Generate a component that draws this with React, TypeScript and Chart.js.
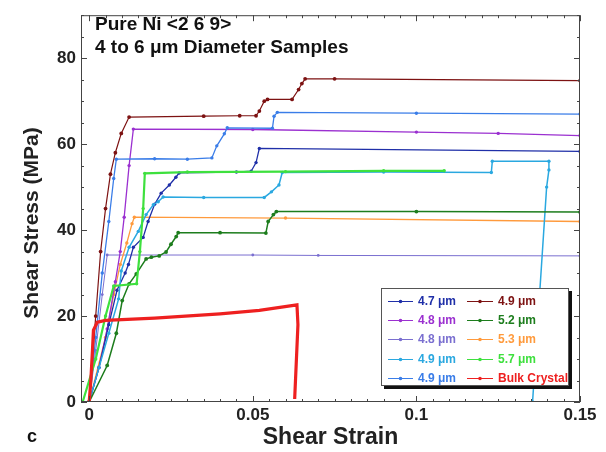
import React, { useEffect, useRef } from 'react';
import { Chart, registerables } from 'chart.js';
Chart.register(...registerables);

// ---------- data (shear strain / shear stress in MPa) ----------
const xTickValues = [0, 0.05, 0.1, 0.15];
const xTickLabels = ['0', '0.05', '0.1', '0.15'];
const yTickValues = [0, 20, 40, 60, 80];
const yTickLabels = ['0', '20', '40', '60', '80'];

const s47Strain = [0, 0.003, 0.006, 0.0085, 0.011, 0.012, 0.0135, 0.0165, 0.018, 0.02, 0.022, 0.0245, 0.0265, 0.0275, 0.045, 0.0495, 0.051, 0.052, 0.15];
const s47Stress = [0, 8, 18, 26, 30, 32, 36, 38.3, 42, 46, 48.6, 50.5, 52.3, 53.3, 53.5, 53.7, 55.7, 59, 58.3];

const s48aStrain = [0, 0.003, 0.0055, 0.008, 0.0095, 0.0107, 0.0122, 0.0135, 0.05, 0.1, 0.125, 0.15];
const s48aStress = [0, 8, 17, 28, 35, 43, 55, 63.5, 63.4, 62.8, 62.5, 62];

const s48bStrain = [0, 0.002, 0.004, 0.0055, 0.05, 0.07, 0.15];
const s48bStress = [0, 12, 25, 34.2, 34.2, 34.1, 34];

const s49aStrain = [0, 0.003, 0.006, 0.009, 0.0098, 0.0122, 0.015, 0.0174, 0.0196, 0.0211, 0.0226, 0.035, 0.0535, 0.0557, 0.058, 0.059, 0.09, 0.1229, 0.1232, 0.1405, 0.1405, 0.1398, 0.1355];
const s49aStress = [0, 8, 16, 24, 30.5, 36, 39.7, 43.6, 45.9, 46.6, 47.7, 47.6, 47.6, 48.9, 50.5, 53.4, 53.5, 53.4, 56, 56, 54, 50, 0];

const s49bStrain = [0, 0.002, 0.004, 0.006, 0.0075, 0.0083, 0.02, 0.03, 0.0375, 0.039, 0.0413, 0.0422, 0.056, 0.0565, 0.0575, 0.1, 0.15];
const s49bStress = [0, 15, 30, 42, 52, 56.5, 56.6, 56.5, 56.8, 59.6, 62.4, 63.8, 63.7, 66.5, 67.4, 67.2, 67];

const s49cStrain = [0, 0.002, 0.0035, 0.005, 0.0065, 0.008, 0.0098, 0.0122, 0.035, 0.046, 0.051, 0.052, 0.0535, 0.0545, 0.062, 0.064, 0.065, 0.066, 0.075, 0.15];
const s49cStress = [0, 20, 35, 45, 53, 58, 62.5, 66.3, 66.5, 66.6, 66.6, 67.7, 70, 70.4, 70.4, 72.7, 74.1, 75.2, 75.2, 74.8];

const s52Strain = [0, 0.0055, 0.0083, 0.0101, 0.0122, 0.0144, 0.0174, 0.019, 0.0214, 0.0235, 0.025, 0.0266, 0.0272, 0.04, 0.054, 0.0547, 0.0563, 0.0572, 0.1, 0.15];
const s52Stress = [0, 8.5, 16, 23.6, 27.5, 29.8, 33.3, 33.7, 34, 34.9, 36.7, 38.5, 39.4, 39.4, 39.3, 42, 43.6, 44.3, 44.3, 44.2];

const s53Strain = [0, 0.005, 0.0075, 0.0095, 0.0115, 0.0131, 0.0138, 0.06, 0.15];
const s53Stress = [0, 15, 25, 32, 37, 41.5, 43, 42.8, 42];

const s57Strain = [-0.002, 0.002, 0.005, 0.0075, 0.0145, 0.0155, 0.0165, 0.017, 0.03, 0.06, 0.09, 0.1085];
const s57Stress = [0, 10, 20, 27, 27.5, 35, 45, 53.2, 53.5, 53.6, 53.8, 53.8];

const bulkStrain = [0, 0.0005, 0.001, 0.0013, 0.0025, 0.005, 0.02, 0.04, 0.052, 0.0635, 0.0638, 0.0628];
const bulkStress = [0, 5, 12, 16.7, 18.6, 19, 19.5, 20.5, 21.3, 22.6, 18, 0.7];

const seriesLabels = ['4.7 μm', '4.8 μm', '4.8 μm', '4.9 μm', '4.9 μm', '4.9 μm', '5.2 μm', '5.3 μm', '5.7 μm', 'Bulk Crystal'];

const FONT = "'Liberation Sans', Arial, Helvetica, sans-serif";

const series = [
  { x: s47Strain, y: s47Stress, color: '#1f2fa8', w: 1.3, pr: 1.7, order: 6 },
  { x: s48aStrain, y: s48aStress, color: '#9b30d0', w: 1.3, pr: 1.7, order: 7 },
  { x: s48bStrain, y: s48bStress, color: '#7a6fd0', w: 1.0, pr: 1.4, order: 9 },
  { x: s49aStrain, y: s49aStress, color: '#2aa8e0', w: 1.5, pr: 1.7, order: 5 },
  { x: s49bStrain, y: s49bStress, color: '#3a7de8', w: 1.3, pr: 1.7, order: 4 },
  { x: s49cStrain, y: s49cStress, color: '#7d1212', w: 1.2, pr: 1.9, order: 3 },
  { x: s52Strain, y: s52Stress, color: '#1d7d1d', w: 1.5, pr: 1.9, order: 2 },
  { x: s53Strain, y: s53Stress, color: '#ff9a3c', w: 1.3, pr: 1.7, order: 8 },
  { x: s57Strain, y: s57Stress, color: '#3ee03e', w: 2.2, pr: 1.7, order: 1 },
  { x: bulkStrain, y: bulkStress, color: '#ee2020', w: 3.2, pr: 0, order: 0 },
];

const framePlugin = {
  id: 'frame',
  afterDraw(chart: any) {
    const { ctx, chartArea: a, scales } = chart;
    const xs = scales.x;
    const ys = scales.y;
    ctx.save();
    // frame
    ctx.strokeStyle = '#444';
    ctx.lineWidth = 1;
    ctx.strokeRect(a.left + 0.5, a.top + 0.5, a.right - a.left - 1, a.bottom - a.top - 1);
    // ticks (inside, all four sides)
    ctx.beginPath();
    for (let i = 0; i <= 30; i++) {
      const px = Math.round(xs.getPixelForValue(i * 0.005)) + 0.5;
      const len = i % 10 === 0 ? 6 : 3;
      ctx.moveTo(px, a.bottom);
      ctx.lineTo(px, a.bottom - len);
      ctx.moveTo(px, a.top);
      ctx.lineTo(px, a.top + len);
    }
    for (let i = 0; i <= 18; i++) {
      const py = Math.round(ys.getPixelForValue(i * 5)) + 0.5;
      const len = i % 4 === 0 ? 6 : 3;
      ctx.moveTo(a.left, py);
      ctx.lineTo(a.left + len, py);
      ctx.moveTo(a.right, py);
      ctx.lineTo(a.right - len, py);
    }
    ctx.stroke();

    // y axis title
    ctx.save();
    ctx.fillStyle = '#222';
    ctx.font = `bold 21px ${FONT}`;
    ctx.textAlign = 'center';
    ctx.textBaseline = 'middle';
    ctx.translate(32, 223);
    ctx.rotate(-Math.PI / 2);
    ctx.fillText('Shear Stress (MPa)', 0, 0);
    ctx.restore();

    // annotations
    ctx.fillStyle = '#111';
    ctx.textBaseline = 'alphabetic';
    ctx.textAlign = 'left';
    ctx.font = `bold 19px ${FONT}`;
    ctx.fillText('Pure Ni <2 6 9>', 95, 30);
    ctx.fillText('4 to 6 μm Diameter Samples', 95, 53);
    ctx.font = `bold 18px ${FONT}`;
    ctx.fillText('c', 27, 442);

    // legend box
    const bx = 381, by = 288, bw = 188, bh = 98;
    ctx.fillStyle = '#111';
    ctx.fillRect(bx + 3, by + 3, bw, bh);
    ctx.fillStyle = '#fff';
    ctx.fillRect(bx, by, bw, bh);
    ctx.strokeStyle = '#555';
    ctx.lineWidth = 1;
    ctx.strokeRect(bx + 0.5, by + 0.5, bw - 1, bh - 1);
    const rowsY = [301, 320, 339, 359, 378];
    const cols = [
      { l0: 388, l1: 413, t: 418 },
      { l0: 467, l1: 493, t: 498 },
    ];
    ctx.font = `bold 12px ${FONT}`;
    ctx.textBaseline = 'middle';
    series.forEach((s, i) => {
      const c = cols[i < 5 ? 0 : 1];
      const yy = rowsY[i % 5];
      ctx.strokeStyle = s.color;
      ctx.lineWidth = 1;
      ctx.beginPath();
      ctx.moveTo(c.l0, yy + 0.5);
      ctx.lineTo(c.l1, yy + 0.5);
      ctx.stroke();
      ctx.fillStyle = s.color;
      ctx.beginPath();
      ctx.arc((c.l0 + c.l1) / 2, yy + 0.5, 1.8, 0, Math.PI * 2);
      ctx.fill();
      ctx.fillText(seriesLabels[i], c.t, yy + 1);
    });
    ctx.restore();
  },
};

export default function App() {
  const ref = useRef<HTMLCanvasElement>(null);
  useEffect(() => {
    const canvas = ref.current;
    if (!canvas) return;
    const chart = new Chart(canvas, {
      type: 'scatter',
      data: {
        datasets: series.map((s, i) => ({
          label: seriesLabels[i],
          data: s.x.map((v, k) => ({ x: v, y: s.y[k] })),
          showLine: true,
          borderColor: s.color,
          backgroundColor: s.color,
          borderWidth: s.w,
          pointRadius: s.pr,
          pointHoverRadius: 0,
          pointBorderWidth: 0,
          order: s.order,
          tension: 0,
        })),
      },
      options: {
        animation: false,
        responsive: false,
        events: [],
        layout: { padding: { left: 0, right: 26, top: 8, bottom: 0 } },
        plugins: { legend: { display: false }, tooltip: { enabled: false } },
        scales: {
          x: {
            type: 'linear',
            min: -0.0025,
            max: 0.15,
            grid: { display: false, drawTicks: false },
            border: { display: false },
            afterBuildTicks: (scale: any) => {
              scale.ticks = xTickValues.map((v) => ({ value: v }));
            },
            afterFit: (scale: any) => {
              scale.height = 50;
            },
            ticks: {
              padding: 3,
              maxRotation: 0,
              autoSkip: false,
              color: '#222',
              font: { family: FONT, size: 17, weight: 'bold' },
              callback: (v: any) => {
                const idx = xTickValues.findIndex((t) => Math.abs(t - Number(v)) < 1e-9);
                return idx >= 0 ? xTickLabels[idx] : '';
              },
            },
            title: {
              display: true,
              text: 'Shear Strain',
              color: '#222',
              padding: { top: 0, bottom: 1 },
              font: { family: FONT, size: 23, weight: 'bold' },
            },
          },
          y: {
            type: 'linear',
            min: 0,
            max: 90,
            grid: { display: false, drawTicks: false },
            border: { display: false },
            afterBuildTicks: (scale: any) => {
              scale.ticks = yTickValues.map((v) => ({ value: v }));
            },
            afterFit: (scale: any) => {
              scale.width = 81;
            },
            ticks: {
              padding: 5,
              autoSkip: false,
              color: '#222',
              font: { family: FONT, size: 17, weight: 'bold' },
              callback: (v: any) => {
                const idx = yTickValues.findIndex((t) => Math.abs(t - Number(v)) < 1e-9);
                return idx >= 0 ? yTickLabels[idx] : '';
              },
            },
            title: { display: false },
          },
        },
      },
      plugins: [framePlugin],
    } as any);
    return () => chart.destroy();
  }, []);
  return (
    <div style={{ position: 'fixed', left: 0, top: 0, width: 606, height: 452, background: '#fff' }}>
      <canvas ref={ref} width={606} height={452} style={{ display: 'block', width: 606, height: 452 }} />
    </div>
  );
}
